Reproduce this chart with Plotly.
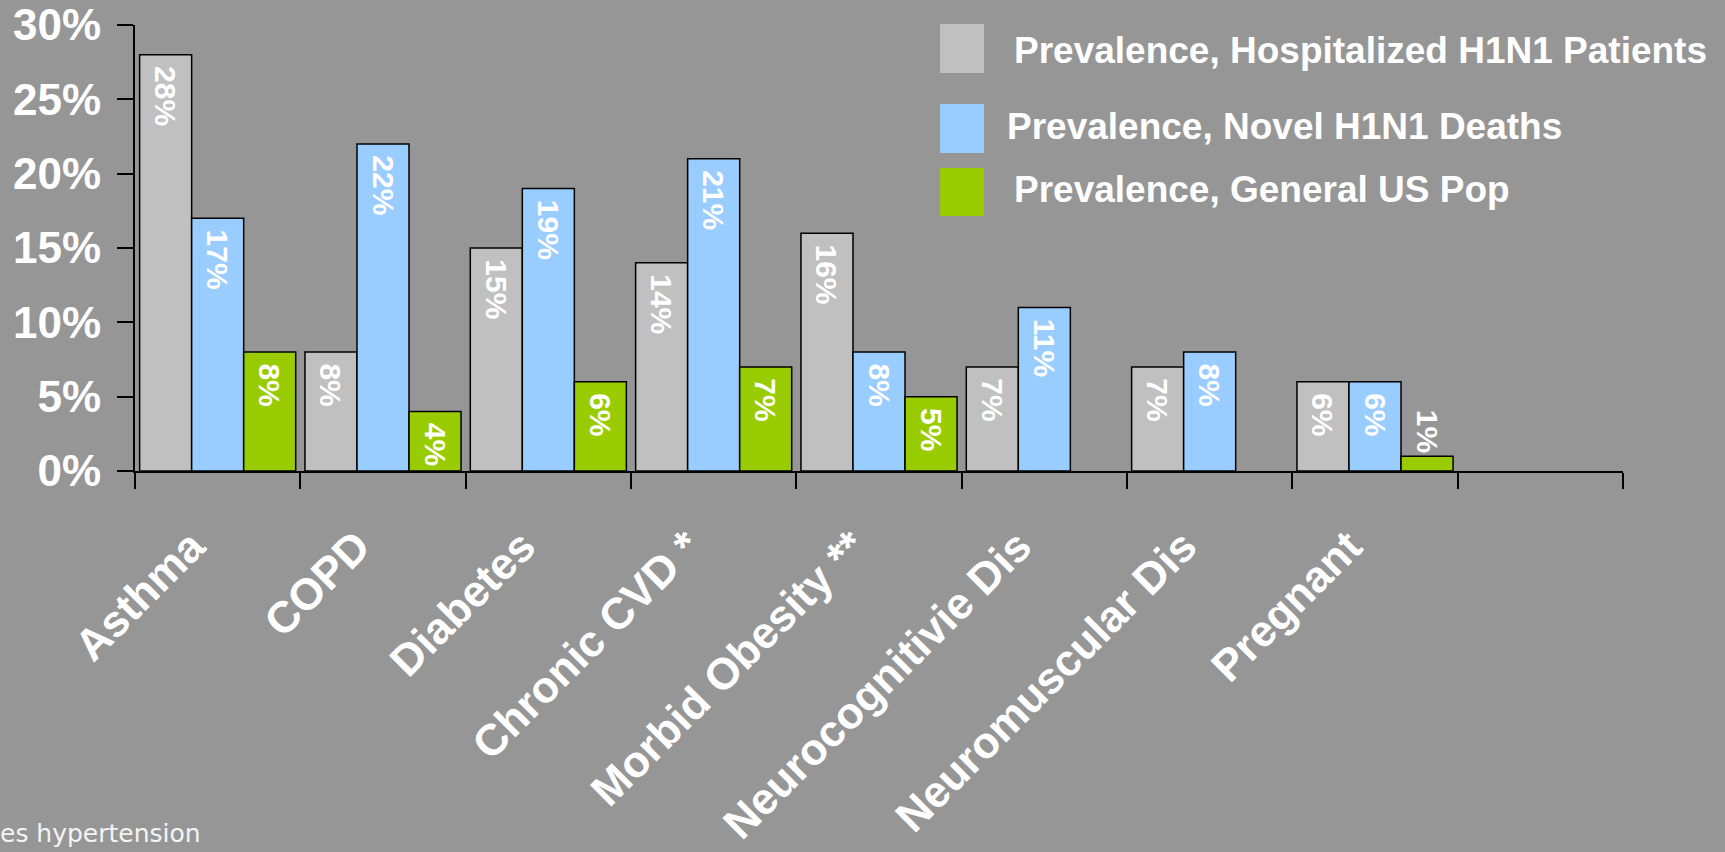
import plotly.graph_objects as go

categories = ["Asthma", "COPD", "Diabetes", "Chronic CVD *", "Morbid Obesity **",
              "Neurocognitivie Dis", "Neuromuscular Dis", "Pregnant"]
empty_slot = [" "]
series_names = ["Prevalence, Hospitalized H1N1 Patients",
                "Prevalence, Novel H1N1 Deaths",
                "Prevalence, General US Pop"]
hospitalized = [0.28, 0.08, 0.15, 0.14, 0.16, 0.07, 0.07, 0.06]
deaths = [0.17, 0.22, 0.19, 0.21, 0.08, 0.11, 0.08, 0.06]
general_pop = [0.08, 0.04, 0.06, 0.07, 0.05, None, None, 0.01]
series_values = [hospitalized, deaths, general_pop]
colors = ["#C0C0C0", "#99CCFF", "#99CC00"]
y_ticks = [0, 0.05, 0.10, 0.15, 0.20, 0.25, 0.30]
footnote = "es hypertension"

BG = "#969696"
FONT = "Liberation Sans"
NBSP = "\u00a0"

# plot area in pixels
L, R, T, B = 135, 1623, 25, 471
W, H = 1725, 852


def px_x(p):
    return (p - L) / (R - L)


def px_y(p):
    return (B - p) / (B - T)


bold30 = dict(family=FONT, size=30, color="white", weight="bold")

fig = go.Figure()
for name, vals, col in zip(series_names, series_values, colors):
    fig.add_trace(go.Bar(
        x=categories, y=vals, name=name,
        marker=dict(color=col, line=dict(color="black", width=1.5)),
        text=[None if v is None else NBSP + f"{round(v*100)}%" for v in vals],
        textposition="auto", textangle=90, insidetextanchor="end",
        textfont=bold30, insidetextfont=bold30, outsidetextfont=bold30,
        cliponaxis=False, showlegend=False,
    ))

all_slots = categories + empty_slot
fig.update_layout(
    width=W, height=H,
    paper_bgcolor=BG, plot_bgcolor=BG,
    margin=dict(l=L, r=W - R, t=T, b=H - B, pad=0),
    barmode="group", bargap=0.056, bargroupgap=0,
    font=dict(family=FONT, color="white"),
)
fig.update_xaxes(
    type="category", categoryorder="array", categoryarray=all_slots,
    range=[-0.5, len(all_slots) - 0.5],
    tickmode="array", tickvals=all_slots,
    ticktext=[c + NBSP * 3 for c in all_slots],
    tickson="boundaries", ticks="outside", ticklen=16, tickwidth=2, tickcolor="black",
    showline=True, linecolor="black", linewidth=2, showgrid=False, zeroline=False,
    tickangle=-45, ticklabelstandoff=4, automargin=False,
    tickfont=dict(family=FONT, size=44, color="white", weight="bold"),
)
fig.update_yaxes(
    range=[0, 0.30], tickvals=y_ticks, tickformat=".0%",
    ticks="outside", ticklen=16, tickwidth=2, tickcolor="black",
    showline=True, linecolor="black", linewidth=2, showgrid=False, zeroline=False,
    ticklabelstandoff=7, automargin=False,
    tickfont=dict(family=FONT, size=44, color="white", weight="bold"),
)

# manual legend (large swatches)
legend_boxes = [(940, 984, 24, 73), (940, 984, 104, 153), (940, 984, 168, 216)]
legend_text_pos = [(1012, 50), (1005, 126), (1012, 190)]
for name, col, (x0, x1, y0, y1), (tx, ty) in zip(series_names, colors, legend_boxes, legend_text_pos):
    fig.add_shape(type="rect", xref="paper", yref="paper",
                  x0=px_x(x0), x1=px_x(x1), y0=px_y(y1), y1=px_y(y0),
                  fillcolor=col, line=dict(width=0))
    fig.add_annotation(xref="paper", yref="paper", x=px_x(tx), y=px_y(ty),
                       xanchor="left", yanchor="middle", showarrow=False,
                       text=name, font=dict(family=FONT, size=37, color="white", weight="bold"))

fig.add_annotation(xref="paper", yref="paper", x=px_x(-2), y=px_y(833),
                   xanchor="left", yanchor="middle", showarrow=False,
                   text=footnote, font=dict(family="DejaVu Sans", size=25, color="#F4F4F4"))

fig.write_html("out.html")
